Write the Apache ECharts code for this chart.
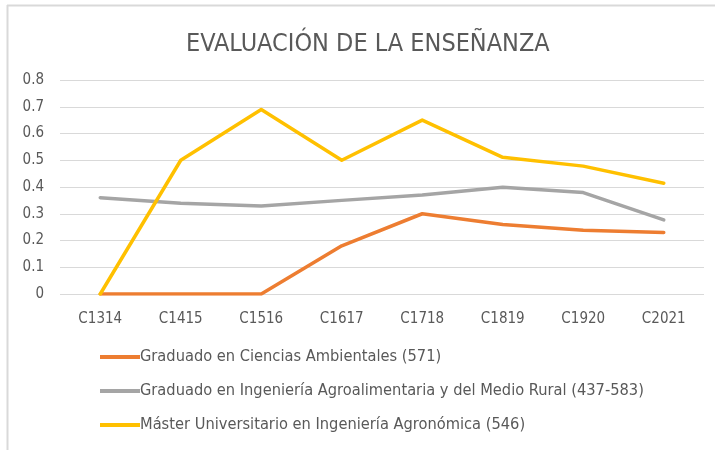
<!DOCTYPE html>
<html>
<head>
<meta charset="utf-8">
<script src="https://cdn.jsdelivr.net/npm/echarts@6/dist/echarts.min.js"></script>
<style>
  html, body { margin: 0; padding: 0; background: #fff; }
  #main { width: 715px; height: 450px; }
</style>
</head>
<body>
<div id="main"></div>
<script>
// 数据
var categories = ['C1314', 'C1415', 'C1516', 'C1617', 'C1718', 'C1819', 'C1920', 'C2021'];
var ambientales = [0, 0, 0, 0.18, 0.30, 0.26, 0.238, 0.23];
var agroalimentaria = [0.36, 0.339, 0.329, 0.35, 0.37, 0.399, 0.379, 0.277];
var master = [0, 0.5, 0.69, 0.5, 0.65, 0.511, 0.478, 0.414];
var seriesNames = [
    'Graduado en Ciencias Ambientales (571)',
    'Graduado en Ingeniería Agroalimentaria y del Medio Rural (437-583)',
    'Máster Universitario en Ingeniería Agronómica (546)'
];
var yTicks = [0, 0.1, 0.2, 0.3, 0.4, 0.5, 0.6, 0.7, 0.8];

var font = "'Liberation Sans Narrow', 'DejaVu Sans Condensed', 'Liberation Sans', sans-serif";
var txt = '#595959';

var chart = echarts.init(document.getElementById('main'));

function makeLine(name, data, color) {
    return {
        name: name,
        type: 'line',
        data: data,
        symbol: 'none',
        lineStyle: { color: color, width: 3.5, cap: 'round', join: 'round' },
        itemStyle: { color: color },
        animation: false
    };
}

var option = {
    animation: false,
    backgroundColor: '#fff',
    title: {
        text: 'EVALUACIÓN DE LA ENSEÑANZA',
        left: 181,
        top: 27,
        textStyle: { color: txt, fontSize: 25, fontWeight: 'normal', fontFamily: font }
    },
    grid: { left: 60, right: 11, top: 80, bottom: 156 },
    legend: {
        orient: 'vertical',
        left: 95,
        top: 344,
        itemGap: 18,
        itemWidth: 40,
        itemHeight: 4,
        icon: 'rect',
        data: seriesNames,
        textStyle: { color: txt, fontSize: 16.3, fontFamily: font, padding: [0, 0, 0, -5] }
    },
    xAxis: {
        type: 'category',
        data: categories,
        boundaryGap: true,
        axisLine: { show: false },
        axisTick: { show: false },
        axisLabel: { color: txt, fontSize: 15, fontFamily: font, margin: 18 }
    },
    yAxis: {
        type: 'value',
        min: yTicks[0],
        max: yTicks[yTicks.length - 1],
        interval: 0.1,
        axisLine: { show: false },
        axisTick: { show: false },
        axisLabel: { color: txt, fontSize: 15, fontFamily: font, margin: 16,
            formatter: function(v) { return +v.toFixed(1) + ''; } },
        splitLine: { lineStyle: { color: '#d9d9d9', width: 1 } }
    },
    graphic: [
        { type: 'line', shape: { x1: 7.5, y1: 5, x2: 7.5, y2: 450 }, style: { stroke: '#d9d9d9', lineWidth: 2 } },
        { type: 'line', shape: { x1: 7, y1: 5.5, x2: 715, y2: 5.5 }, style: { stroke: '#d9d9d9', lineWidth: 2 } }
    ],
    series: [
        makeLine(seriesNames[0], ambientales, '#ed7d31'),
        makeLine(seriesNames[1], agroalimentaria, '#a5a5a5'),
        makeLine(seriesNames[2], master, '#ffc000')
    ]
};

chart.setOption(option);
</script>
</body>
</html>
